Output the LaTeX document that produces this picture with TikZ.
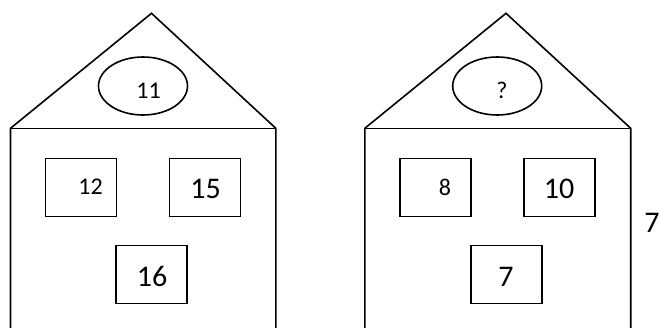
\documentclass[tikz,border=0pt]{standalone}
\usepackage{fontspec}
\setmainfont{Carlito}
\usetikzlibrary{shapes.geometric}
\begin{document}
\begin{tikzpicture}[x=1pt,y=-1pt,line width=1.6pt,
  win/.style={draw,rectangle,inner sep=0pt,minimum width=71pt,minimum height=58pt},
  oval/.style={draw,ellipse,inner sep=0pt,minimum width=89pt,minimum height=58pt},
  big/.style={anchor=base,inner sep=0pt,font=\fontsize{30}{32}\selectfont},
  small/.style={anchor=base,inner sep=0pt,font=\fontsize{24}{27}\selectfont}]
\useasboundingbox (0,0) rectangle (659,327);
% left house
\coordinate (LA) at (151.5,13.3);
\coordinate (LL) at (10.5,128.3);
\coordinate (LR) at (275.8,128.3);
\coordinate (LLb) at (10.5,330);
\coordinate (LRb) at (275.8,330);
\draw[line join=miter] (LLb) -- (LL) -- (LA) -- (LR) -- (LRb);
\draw (LL) -- (LR);
\node[oval] (Lov) at (143,86) {};
\node[small] (Lt) at (148.5,98) {11};
\node[win] (Lw1) at (81,187.3) {};
\node[small] (Lw1t) at (90.5,194.5) {12};
\node[win] (Lw2) at (205,187.3) {};
\node[big] (Lw2t) at (205.5,198) {15};
\node[win] (Lw3) at (151.7,274.5) {};
\node[big] (Lw3t) at (152,286.7) {16};
% right house
\coordinate (RA) at (506,13.3);
\coordinate (RL) at (364.8,128.3);
\coordinate (RR) at (630.7,128.3);
\coordinate (RLb) at (364.8,330);
\coordinate (RRb) at (630.7,330);
\draw[line join=miter] (RLb) -- (RL) -- (RA) -- (RR) -- (RRb);
\draw (RL) -- (RR);
\node[oval] (Rov) at (497.2,86) {};
\node[small] (Rt) at (502,98.5) {?};
\node[win] (Rw1) at (435.5,187.3) {};
\node[small] (Rw1t) at (445,195) {8};
\node[win] (Rw2) at (559.7,187.3) {};
\node[big] (Rw2t) at (559,198.3) {10};
\node[win] (Rw3) at (506.4,274.5) {};
\node[big] (Rw3t) at (506,286.7) {7};
\node[big] (side) at (652,232) {7};
\end{tikzpicture}
\end{document}
